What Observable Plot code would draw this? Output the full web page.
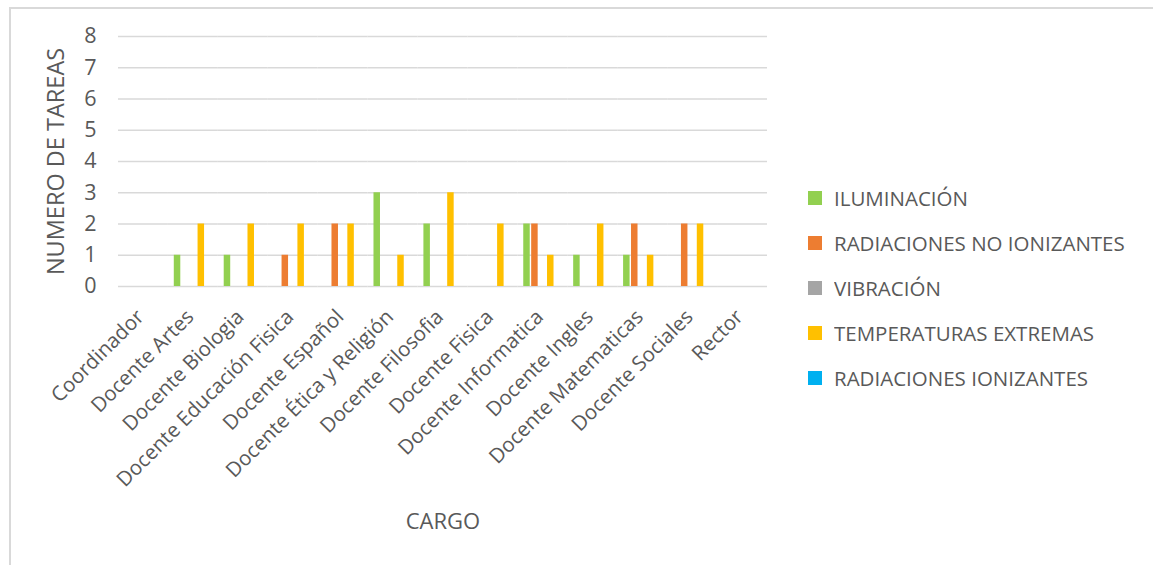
<!DOCTYPE html>
<html>
<head>
<meta charset="utf-8">
<script src="https://cdn.jsdelivr.net/npm/d3@7"></script>
<script src="https://cdn.jsdelivr.net/npm/@observablehq/plot@0.6"></script>
<style>
  html, body { margin: 0; padding: 0; background: #fff; }
  body { width: 1153px; height: 565px; position: relative; overflow: hidden; font-family: "Open Sans", sans-serif; }
  #frame { position: absolute; left: 9px; top: 7px; width: 1150px; height: 600px; border-top: 2px solid #d9d9d9; border-left: 2px solid #d9d9d9; box-sizing: border-box; }
  #chart { position: absolute; left: 0; top: 0; }
  #legend { position: absolute; left: 808px; top: 176px; }
  .lg-swatch { height: 44px; display: flex; align-items: center; font-size: 20.5px; color: #595959; font-family: "Open Sans", sans-serif; }
  .lg-swatch svg { margin-right: 12px; }
</style>
</head>
<body>
<div id="frame"></div>
<div id="chart"></div>
<div id="legend"></div>
<script>
const categories = [
  "Coordinador", "Docente Artes", "Docente Biologia", "Docente Educación Fisica",
  "Docente Español", "Docente Ética y Religión", "Docente Filosofia", "Docente Fisica",
  "Docente Informatica", "Docente Ingles", "Docente Matematicas", "Docente Sociales", "Rector"
];
const series = ["ILUMINACIÓN", "RADIACIONES NO IONIZANTES", "VIBRACIÓN", "TEMPERATURAS EXTREMAS", "RADIACIONES IONIZANTES"];
const iluminacion            = [0, 1, 1, 0, 0, 3, 2, 0, 2, 1, 1, 0, 0];
const radiacionesNoIonizantes = [0, 0, 0, 1, 2, 0, 0, 0, 2, 0, 2, 2, 0];
const vibracion              = [0, 0, 0, 0, 0, 0, 0, 0, 0, 0, 0, 0, 0];
const temperaturasExtremas   = [0, 2, 2, 2, 2, 1, 3, 2, 1, 2, 1, 2, 0];
const radiacionesIonizantes  = [0, 0, 0, 0, 0, 0, 0, 0, 0, 0, 0, 0, 0];
const yTicks = [0, 1, 2, 3, 4, 5, 6, 7, 8];
const colors = ["#92D050", "#ED7D31", "#A5A5A5", "#FFC000", "#00B0F0"];

const valuesBySeries = [iluminacion, radiacionesNoIonizantes, vibracion, temperaturasExtremas, radiacionesIonizantes];
const data = categories.flatMap((c, i) => series.map((s, j) => ({cargo: c, riesgo: s, valor: valuesBySeries[j][i]})));

const chart = Plot.plot({
  width: 1153,
  height: 565,
  marginLeft: 118,
  marginRight: 386,
  marginTop: 36,
  marginBottom: 279,
  style: {fontFamily: "'Open Sans', sans-serif", background: "transparent"},
  fx: {domain: categories, padding: 0, round: false},
  x: {domain: series, paddingInner: 0.18, paddingOuter: 0.74, round: false, axis: null},
  y: {domain: [0, 8]},
  color: {domain: series, range: colors},
  marks: [
    Plot.gridY(yTicks, {stroke: "#d9d9d9", strokeOpacity: 1, strokeWidth: 1.3}),
    Plot.barY(data, {fx: "cargo", x: "riesgo", y: "valor", fill: "riesgo"}),
    Plot.axisY(yTicks, {tickSize: 0, tickPadding: 22, fontSize: 21.5, color: "#595959", label: null}),
    Plot.axisY([], {tickSize: 0, fontSize: 23.5, color: "#595959",
      label: "NUMERO DE TAREAS", labelAnchor: "center", labelOffset: 71, labelArrow: "none"}),
    Plot.axisFx({anchor: "bottom", tickRotate: -45, tickSize: 0, tickPadding: 27, dx: -3, fontSize: 20.5, color: "#595959",
      label: null}),
    Plot.axisFx([], {anchor: "bottom", tickSize: 0, fontSize: 22, color: "#595959",
      label: "CARGO", labelAnchor: "center", labelOffset: 242})
  ]
});
document.getElementById("chart").appendChild(chart);

const legend = Plot.legend({color: {domain: series, range: colors}, legend: "swatches", columns: 1, swatchSize: 14, className: "lg"});
document.getElementById("legend").appendChild(legend);
</script>
</body>
</html>
